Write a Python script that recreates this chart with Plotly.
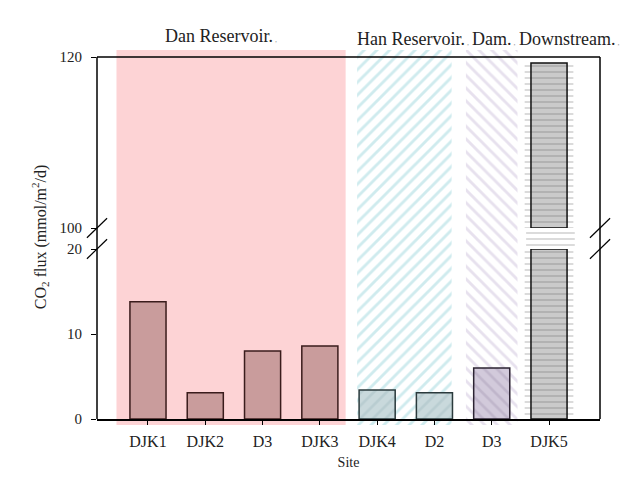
import plotly.graph_objects as go

# ---------------- data ----------------
sites = ["DJK1", "DJK2", "D3", "DJK3", "DJK4", "D2", "D3", "DJK5"]
flux = [13.8, 3.1, 8.0, 8.6, 3.4, 3.1, 6.0, 119.3]
site_group = [0, 0, 0, 0, 1, 1, 2, 3]
groups = ["Dan Reservoir", "Han Reservoir", "Dam", "Downstream"]
lower_ticks = [0, 10, 20]
upper_ticks = [100, 120]
LOW_RANGE = [0, 20]
UP_RANGE = [100, 120]

# ---------------- styles ----------------
FONT = "Liberation Serif"
LOW_DOM = [0.016, 0.4693]
UP_DOM = [0.5253, 0.9813]
XR = [-0.89, 7.89]
BAR_W = 0.63
GROUP_PAD = [(0.55, 0.45), (0.35, 0.30), (0.45, 0.45), (0.40, 0.45)]
GROUP_LABEL_X = [0.26, 3.61, 5.62, 6.44]
GROUP_LABEL_Y = [1.037, 1.029, 1.029, 1.029]

bar_style = [
    dict(color="#c99c9c", line=dict(color="#3a1c1c", width=1.5)),
    dict(color="#c9d9dc", line=dict(color="#2a3a3c", width=1.5),
         pattern=dict(shape="/", fgcolor="#a9c2c5", bgcolor="#c9d9dc", size=9, solidity=0.3)),
    dict(color="#d2cadb", line=dict(color="#2c2433", width=1.5),
         pattern=dict(shape="\\", fgcolor="#ada2bb", bgcolor="#d2cadb", size=9, solidity=0.3)),
    dict(color="#c8c8c8", line=dict(color="#111111", width=1.5),
         pattern=dict(shape="-", fgcolor="#8a8a8a", bgcolor="#cacaca", size=6, solidity=0.25)),
]
group_bg = [
    dict(color="#fdd3d5"),
    dict(color="white", pattern=dict(shape="/", fgcolor="#9fd8de", bgcolor="white", size=9, solidity=0.32)),
    dict(color="white", pattern=dict(shape="\\", fgcolor="#d0c3dd", bgcolor="white", size=9, solidity=0.32)),
    None,
]

x_idx = list(range(len(sites)))
fig = go.Figure()

# background group regions (on full-height helper axis 'y')
for g, name in enumerate(groups):
    members = [i for i in x_idx if site_group[i] == g]
    lo = min(members) - GROUP_PAD[g][0]
    hi = max(members) + GROUP_PAD[g][1]
    if group_bg[g] is not None:
        fig.add_trace(go.Bar(x=[(lo + hi) / 2], y=[1], base=[0], width=[hi - lo],
                             marker=dict(line=dict(width=0), **group_bg[g]),
                             xaxis="x", yaxis="y", showlegend=False, hoverinfo="skip"))
    else:
        # downstream: lines visible in the axis-break gap
        gap_lo, gap_hi = LOW_DOM[1], UP_DOM[0]
        fig.add_trace(go.Bar(x=[(lo + hi) / 2], y=[gap_hi - gap_lo], base=[gap_lo], width=[hi - lo],
                             marker=dict(color="white", line=dict(width=0),
                                         pattern=dict(shape="-", fgcolor="#a0a0a0", bgcolor="white",
                                                      size=6, solidity=0.25)),
                             xaxis="x", yaxis="y", showlegend=False, hoverinfo="skip"))
        # wider line pattern behind the broken bar
        for ax, rng in (("y2", LOW_RANGE), ("y3", UP_RANGE)):
            ys, bs = [], []
            for i in members:
                top = min(flux[i], rng[1])
                if flux[i] > rng[0]:
                    ys.append(top - rng[0]); bs.append(rng[0])
            fig.add_trace(go.Bar(x=members, y=ys, base=bs, width=hi - lo,
                                 marker=dict(color="white", line=dict(width=0),
                                             pattern=dict(shape="-", fgcolor="#a0a0a0", bgcolor="white",
                                                          size=6, solidity=0.25)),
                                 xaxis="x", yaxis=ax, showlegend=False, hoverinfo="skip"))

# data bars: lower segment and upper segment
for g in range(len(groups)):
    members = [i for i in x_idx if site_group[i] == g]
    low_y = [min(flux[i], LOW_RANGE[1]) for i in members]
    fig.add_trace(go.Bar(x=members, y=low_y, width=BAR_W, marker=bar_style[g],
                         xaxis="x", yaxis="y2", showlegend=False))
    up_m = [i for i in members if flux[i] > UP_RANGE[0]]
    if up_m:
        fig.add_trace(go.Bar(x=up_m, y=[flux[i] - UP_RANGE[0] for i in up_m],
                             base=[UP_RANGE[0]] * len(up_m), width=BAR_W, marker=bar_style[g],
                             xaxis="x", yaxis="y3", showlegend=False))

xtickfont = dict(family=FONT, size=16, color="#222")
ytickfont = dict(family=FONT, size=15, color="#222")
fig.update_layout(
    width=621, height=467,
    margin=dict(l=89, r=29, t=42, b=50, autoexpand=False),
    paper_bgcolor="white", plot_bgcolor="rgba(0,0,0,0)",
    barmode="overlay",
    xaxis=dict(range=XR, tickvals=x_idx, ticktext=sites, anchor="y2", automargin=False,
               showline=True, linecolor="black", linewidth=1.5,
               ticks="outside", ticklen=4, tickcolor="black", tickwidth=1,
               ticklabelstandoff=3, showgrid=False, zeroline=False, tickfont=xtickfont,
               title=dict(text="Site", font=dict(family=FONT, size=14, color="#222"), standoff=8)),
    yaxis=dict(domain=[0, 1], range=[0, 1], visible=False, fixedrange=True, automargin=False),
    yaxis2=dict(domain=LOW_DOM, range=LOW_RANGE, anchor="x", tickvals=lower_ticks, automargin=False,
                ticks="outside", ticklen=5, tickcolor="black", ticklabelstandoff=6,
                showgrid=False, zeroline=False, showline=False, tickfont=ytickfont),
    yaxis3=dict(domain=UP_DOM, range=UP_RANGE, anchor="x", tickvals=upper_ticks, automargin=False,
                ticks="outside", ticklen=5, tickcolor="black", ticklabelstandoff=6,
                showgrid=False, zeroline=False, showline=False, tickfont=ytickfont),
)

# frame lines (continuous through the break) and break marks
line = dict(color="black", width=1.5)
fig.add_shape(type="line", xref="paper", yref="paper", x0=0, x1=0, y0=LOW_DOM[0], y1=UP_DOM[1], line=line)
fig.add_shape(type="line", xref="paper", yref="paper", x0=1, x1=1, y0=LOW_DOM[0], y1=UP_DOM[1], line=line)
fig.add_shape(type="line", xref="paper", yref="paper", x0=0, x1=1, y0=UP_DOM[1], y1=UP_DOM[1], line=line)
for xc in (0, 1):
    for yc in (LOW_DOM[1], UP_DOM[0]):
        fig.add_shape(type="line", xref="paper", yref="paper",
                      x0=xc - 0.02, x1=xc + 0.02, y0=yc - 0.026, y1=yc + 0.026,
                      line=dict(color="black", width=1.2))

# group labels
for g, name in enumerate(groups):
    fig.add_annotation(text=name + ".<span style='font-size:8px;color:#999'> ,</span>",
                       x=GROUP_LABEL_X[g], y=GROUP_LABEL_Y[g], xref="x", yref="paper",
                       xanchor="left", yanchor="middle", showarrow=False,
                       font=dict(family=FONT, size=18, color="#222"))

# y-axis title
fig.add_annotation(text="CO<sub>2</sub> flux (mmol/m<sup>2</sup>/d)", textangle=-90,
                   x=0, y=0.501, xref="paper", yref="paper", xshift=-57,
                   xanchor="center", yanchor="middle",
                   showarrow=False, font=dict(family=FONT, size=16, color="#222"))

fig.write_html("out.html")
